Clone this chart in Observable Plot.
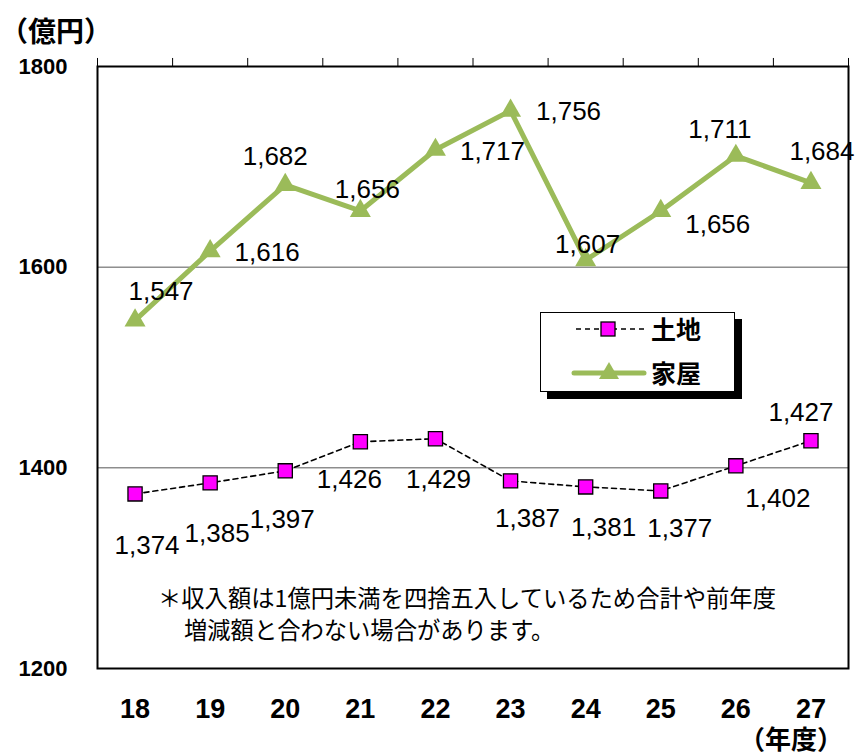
<!DOCTYPE html>
<html lang="ja">
<head>
<meta charset="utf-8">
<script src="https://cdn.jsdelivr.net/npm/d3@7"></script>
<script src="https://cdn.jsdelivr.net/npm/@observablehq/plot@0.6"></script>
<style>
  html, body { margin: 0; padding: 0; background: #fff; }
  #wrap { position: relative; width: 865px; height: 755px; overflow: hidden; font-family: "Noto Sans CJK JP", "Noto Sans", sans-serif; }
  #wrap svg.plot { position: absolute; left: 0; top: 0; }
  g[aria-label="y-axis tick label"] text { font-family: "Liberation Sans", Arial, sans-serif; font-size: 22px; font-weight: bold; fill: #000; }
  .unit { position: absolute; font-weight: bold; color: #000; white-space: nowrap; }
  .note { position: absolute; font-size: 23.3px; color: #000; line-height: 32px; white-space: nowrap; }
  .legend { position: absolute; left: 540px; top: 312px; width: 193px; height: 78px; border: 1.5px solid #000; background: #fff; box-shadow: 7px 7px 0 #000; }
  .legend svg { position: absolute; left: 0; top: 0; }
  .legend .lab { position: absolute; left: 110px; font-weight: bold; font-size: 25px; line-height: 25px; }
</style>
</head>
<body>
<div id="wrap"></div>
<script>
// ---- data ----
const years = [18, 19, 20, 21, 22, 23, 24, 25, 26, 27];
const land  = [1374, 1385, 1397, 1426, 1429, 1387, 1381, 1377, 1402, 1427];   // 土地
const house = [1547, 1616, 1682, 1656, 1717, 1756, 1607, 1656, 1711, 1684];   // 家屋
const yTicks = [1200, 1400, 1600, 1800];
const gridLines = [1400, 1600];
const seriesNames = ["土地", "家屋"];
const unitLabel = "（億円）";
const xUnitLabel = "（年度）";
const noteLines = ["＊収入額は1億円未満を四捨五入しているため合計や前年度", "増減額と合わない場合があります。"];

// label offsets (px) for value labels
const houseDx = [26, 57, -10, 7, 57, 58, 2, 57, -16, 11];
const houseDy = [-29, 2, -28, -21, 2, 1, -15, 14, -26, -31];
const landDx  = [12, 7, -3, -11, 3, 17, 18, 19, 42, -10];
const landDy  = [52, 51, 49, 38, 41, 38, 41, 38, 33, -28];

const GREEN = "#9BBB59";
const MAGENTA = "#FF00FF";

const landData = years.map((x, i) => ({x, v: land[i]}));
const houseData = years.map((x, i) => ({x, v: house[i]}));
const bounds = d3.range(years.length + 1).map(i => years[0] - 0.5 + i);
const fmt = d3.format(",");
const labelFont = {fontFamily: "Liberation Sans, Arial, sans-serif", fontSize: 26, fill: "#000"};

const plot = Plot.plot({
  width: 865,
  height: 755,
  marginLeft: 97,
  marginRight: 17,
  marginTop: 66,
  marginBottom: 87,
  x: {type: "linear", domain: [years[0] - 0.5, years[years.length - 1] + 0.5]},
  y: {domain: [1200, 1800]},
  marks: [
    Plot.ruleY(gridLines, {stroke: "#555", strokeWidth: 1}),
    Plot.ruleX(bounds, {x: d => d, y1: 1800, y2: 1808, stroke: "#000", strokeWidth: 1}),
    Plot.frame({stroke: "#000", strokeWidth: 2}),
    Plot.axisY({ticks: yTicks, tickSize: 0, tickPadding: 30, label: null, tickFormat: d => String(d)}),
    Plot.axisX({ticks: years, tickSize: 0, tickPadding: 30, label: null, tickFormat: d => String(d),
      fontFamily: "Liberation Sans, Arial, sans-serif", fontSize: 27, fontWeight: "bold", fill: "#000", ariaLabel: "x-axis tick label"}),
    Plot.line(landData, {x: "x", y: "v", stroke: "#000", strokeWidth: 1.6, strokeDasharray: "5,4"}),
    Plot.dot(landData, {x: "x", y: "v", symbol: "square", r: 8, fill: MAGENTA, stroke: "#000", strokeWidth: 1.3}),
    Plot.line(houseData, {x: "x", y: "v", stroke: GREEN, strokeWidth: 5}),
    Plot.dot(houseData, {x: "x", y: "v", symbol: "triangle", r: 7.8, fill: GREEN, stroke: null}),
    ...houseData.map((d, i) => Plot.text([d], {x: "x", y: "v", text: d => fmt(d.v), dx: houseDx[i], dy: houseDy[i], ...labelFont, ariaLabel: "value label"})),
    ...landData.map((d, i) => Plot.text([d], {x: "x", y: "v", text: d => fmt(d.v), dx: landDx[i], dy: landDy[i], ...labelFont, ariaLabel: "value label"}))
  ]
});
plot.classList.add("plot");

const wrap = document.getElementById("wrap");
wrap.appendChild(plot);

// condensed glyphs like the reference
d3.select(plot).selectAll('g[aria-label="value label"] text')
  .attr("textLength", 59).attr("lengthAdjust", "spacingAndGlyphs");
d3.select(plot).selectAll('g[aria-label="x-axis tick label"] text')
  .attr("textLength", 21).attr("lengthAdjust", "spacingAndGlyphs");

// unit labels
const u1 = document.createElement("div");
u1.className = "unit"; u1.textContent = unitLabel;
u1.style.cssText = "left:0px; top:15px; font-size:28px; line-height:30px;";
wrap.appendChild(u1);
const u2 = document.createElement("div");
u2.className = "unit"; u2.textContent = xUnitLabel;
u2.style.cssText = "left:739px; top:725px; font-size:26px; line-height:26px;";
wrap.appendChild(u2);

// note
const n1 = document.createElement("div");
n1.className = "note"; n1.textContent = noteLines[0];
n1.style.left = "158px"; n1.style.top = "581px";
wrap.appendChild(n1);
const n2 = document.createElement("div");
n2.className = "note"; n2.textContent = noteLines[1];
n2.style.left = "184px"; n2.style.top = "613px";
wrap.appendChild(n2);

// legend
const lg = document.createElement("div");
lg.className = "legend";
lg.innerHTML = `
<svg width="193" height="78">
  <line x1="35" x2="103" y1="16" y2="16" stroke="#000" stroke-width="1.6" stroke-dasharray="5,4"/>
  <rect x="60" y="9" width="14" height="14" fill="${MAGENTA}" stroke="#000" stroke-width="1.3"/>
  <line x1="33" x2="103" y1="60" y2="60" stroke="${GREEN}" stroke-width="5" stroke-linecap="round"/>
  <path d="M68,49 L78,66 L58,66 Z" fill="${GREEN}"/>
</svg>
<div class="lab" style="top:3px">${seriesNames[0]}</div>
<div class="lab" style="top:47px">${seriesNames[1]}</div>`;
wrap.appendChild(lg);
</script>
</body>
</html>
